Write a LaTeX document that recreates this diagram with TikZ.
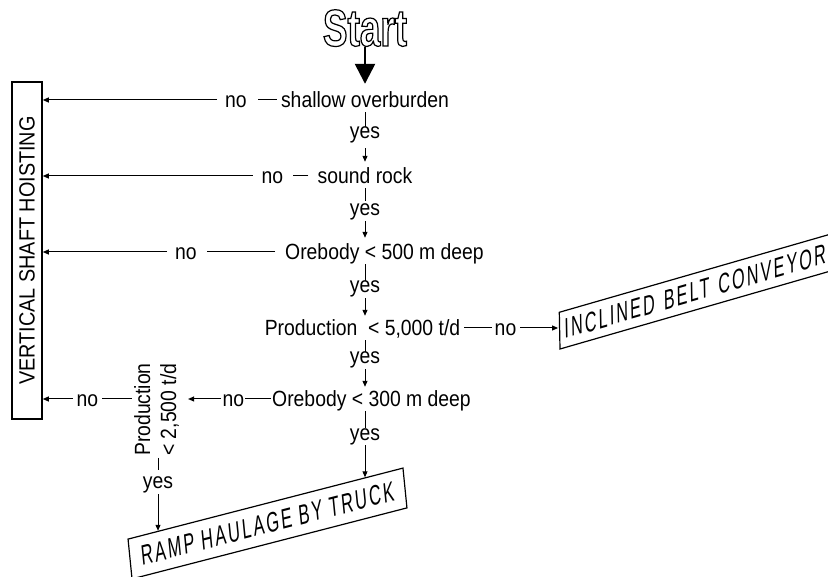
\documentclass[tikz,border=0pt]{standalone}
\usepackage{fontspec}
\usetikzlibrary{arrows.meta,intersections}
\newfontfamily\labfam[FakeStretch=0.88]{Liberation Sans}
\newfontfamily\vshfam[FakeStretch=0.9]{Liberation Sans}
\newfontfamily\boxfam[FakeStretch=0.6,LetterSpace=8]{Liberation Sans}
\newfontfamily\startfam[FakeStretch=0.71]{Liberation Sans}
\newcommand\labsz{\labfam\fontsize{22pt}{26pt}\selectfont}
\newcommand\outlinetext[1]{\special{pdf:literal direct 1 Tr 1.2 w}#1\special{pdf:literal direct 0 Tr}}
\begin{document}
\begin{tikzpicture}[x=1pt,y=-1pt,
  dec/.style={font=\labsz, inner xsep=0pt, inner ysep=4pt, text height=16pt, text depth=0pt, anchor=base},
  yesst/.style={font=\labsz, inner sep=0pt, text height=12pt, text depth=5pt, anchor=base},
  p25st/.style={font=\labsz, rotate=90, align=left, inner sep=0pt},
  vshst/.style={draw, line width=1.6pt, rotate=90, minimum width=337pt, minimum height=30pt, inner sep=0pt,
                font=\vshfam\fontsize{22pt}{26pt}\selectfont},
  slbox/.style={draw, line width=1.2pt, inner ysep=0pt, font=\boxfam\fontsize{28pt}{32pt}\selectfont},
  startst/.style={font=\startfam\bfseries\fontsize{52pt}{60pt}\selectfont, inner sep=0pt, text depth=0pt, anchor=base},
  ln/.style={line width=1pt},
  arr/.style={line width=1pt, -{Triangle[length=6pt,width=5pt]}},
  bigarrow/.style={line width=2.5pt, -{Triangle[length=20pt,width=20pt]}}
]
\useasboundingbox (0,0) rectangle (828,577);
\clip (0,0) rectangle (828,577);

% nodes
\node[startst] (start) at (365,46) {\outlinetext{Start}};
\node[dec] (shallow) at (365,108) {shallow overburden};
\node[dec] (no1) at (236,108) {no};
\node[yesst] (yes1) at (365,139) {yes};
\node[dec] (sound) at (365,184) {sound rock};
\node[dec] (no2) at (272.5,184) {no};
\node[yesst] (yes2) at (365,216) {yes};
\node[dec] (ore5) at (384.5,260) {Orebody < 500 m deep};
\node[dec] (no3) at (186,260) {no};
\node[yesst] (yes3) at (365,293) {yes};
\node[dec] (prod5) at (362.5,336) {Production~ < 5,000 t/d};
\node[dec] (no4) at (505.5,336) {no};
\node[yesst] (yes4) at (365,364) {yes};
\node[dec] (ore3) at (371.5,407) {Orebody < 300 m deep};
\node[dec] (no5) at (233.5,407) {no};
\node[p25st] (p25) at (156.5,409.5) {Production\\< 2,500 t/d};
\node[dec] (no6) at (87.5,407) {no};
\node[yesst] (yes5) at (365,440) {yes};
\node[yesst] (yes6) at (158,489) {yes};
\node[vshst] (vsh) at (27,250.5) {VERTICAL SHAFT HOISTING};
\node[slbox, cm={0.961,0.277,-0.019,1,(0,0)}, minimum width=300pt, minimum height=36.7pt,
      text width=290pt, inner xsep=5pt, align=left] (inc) at (703.8,289.1) {INCLINED BELT CONVEYOR};
\node[slbox, cm={0.968,0.25,-0.0995,0.995,(0,0)}, minimum width=284pt, minimum height=40pt] (ramp) at (267.5,523.5) {RAMP HAULAGE BY TRUCK};

% start arrow
\draw[bigarrow, shorten <=1pt, shorten >=4pt] (start.south) -- (start.south |- shallow.north);

% rows to vertical shaft hoisting
\draw[ln, shorten <=4pt, shorten >=11pt] (shallow.west) -- (no1.east);
\draw[arr, shorten <=8pt] (no1.west) -- (no1.west -| vsh.south);
\draw[ln, shorten <=9pt, shorten >=10pt] (sound.west) -- (no2.east);
\draw[arr, shorten <=9pt] (no2.west) -- (no2.west -| vsh.south);
\draw[ln, shorten <=10pt, shorten >=10pt] (ore5.west) -- (no3.east);
\draw[arr, shorten <=8pt] (no3.west) -- (no3.west -| vsh.south);

% production 5000 -> inclined belt
\draw[ln, shorten <=4pt, shorten >=3pt] (prod5.east) -- (no4.west);
\draw[arr, shorten <=4pt, shorten >=1pt] (no4.east) -- (no4.east -| inc.west);

% orebody 300 -> production 2500 -> vertical shaft
\draw[ln, shorten <=1pt, shorten >=1pt] (ore3.west) -- (no5.east);
\draw[arr, shorten <=2pt, shorten >=9pt] (no5.west) -- (no5.west -| p25.south);
\draw[ln, shorten <=2pt, shorten >=4pt] (no6.east -| p25.north) -- (no6.east);
\draw[arr, shorten <=4pt] (no6.west) -- (no6.west -| vsh.south);

% vertical chain
\draw[ln] (yes1.north |- shallow.south) -- (yes1.north);
\draw[arr, shorten <=4pt, shorten >=2pt] (yes1.south) -- (yes1.south |- sound.north);
\draw[ln, shorten >=3pt] (yes2.north |- sound.south) -- (yes2.north);
\draw[arr, shorten >=2pt] (yes2.south) -- (yes2.south |- ore5.north);
\draw[ln] (yes3.north |- ore5.south) -- (yes3.north);
\draw[arr] (yes3.south) -- (yes3.south |- prod5.north);
\draw[ln] (yes4.north |- prod5.south) -- (yes4.north);
\draw[arr] (yes4.south) -- (yes4.south |- ore3.north);
\draw[ln] (yes5.north |- ore3.south) -- (yes5.north);
\draw[ln, shorten <=2pt, shorten >=7pt] (yes6.north |- p25.west) -- (yes6.north);

% arrows onto the ramp box
\path[name path=rtop] (ramp.north west) -- (ramp.north east);
\path[name path=v5] (yes5.south) -- (yes5.south |- ramp.south west);
\path[name path=v6] (yes6.south) -- (yes6.south |- ramp.south west);
\path[name intersections={of=v5 and rtop, by=r5}];
\path[name intersections={of=v6 and rtop, by=r6}];
\draw[arr] (yes5.south) -- (r5);
\draw[arr] (yes6.south) -- (r6);
\end{tikzpicture}
\end{document}
